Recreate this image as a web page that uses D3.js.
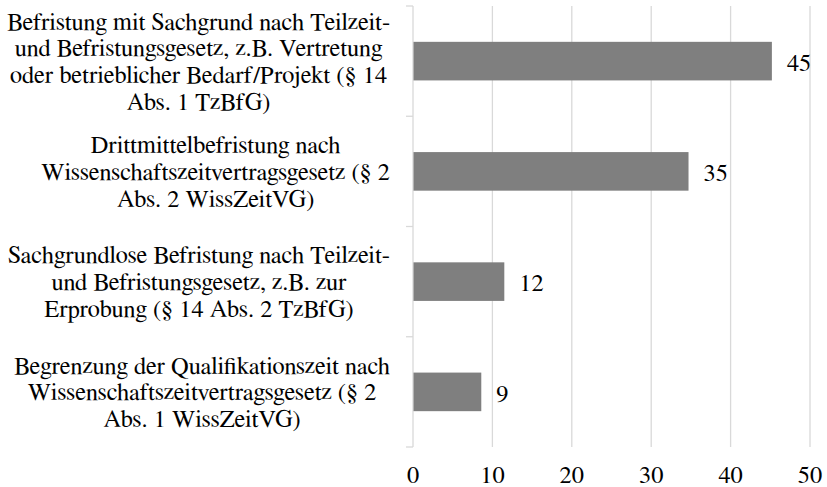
<!DOCTYPE html>
<html>
<head>
<meta charset="utf-8">
<script src="https://cdn.jsdelivr.net/npm/d3@7"></script>
<style>
  html, body { margin: 0; padding: 0; background: #ffffff; }
  svg { display: block; }
</style>
</head>
<body>
<svg id="chart" width="827" height="487"></svg>
<script>
// ---- data ----
const categories = [
  ["Befristung mit Sachgrund nach Teilzeit-", "und Befristungsgesetz, z.B. Vertretung", "oder betrieblicher Bedarf/Projekt (§ 14", "Abs. 1 TzBfG)"],
  ["Drittmittelbefristung nach", "Wissenschaftszeitvertragsgesetz (§ 2", "Abs. 2 WissZeitVG)"],
  ["Sachgrundlose Befristung nach Teilzeit-", "und Befristungsgesetz, z.B. zur", "Erprobung (§ 14 Abs. 2 TzBfG)"],
  ["Begrenzung der Qualifikationszeit nach", "Wissenschaftszeitvertragsgesetz (§ 2", "Abs. 1 WissZeitVG)"]
];
const values = [45.2, 34.7, 11.5, 8.6];
const xTicks = [0, 10, 20, 30, 40, 50];

// ---- layout ----
const FONT = 'FreeSerif, "Liberation Serif", serif';
const fontSize = 24.4;
const lineH = 26.7;
const svg = d3.select("#chart");
const keys = categories.map((c, i) => "c" + i);

const x = d3.scaleLinear().domain([0, 50]).range([413, 810]);
const y = d3.scaleBand().domain(keys).range([6, 447]).paddingInner(0.65).paddingOuter(0.325);

// gridlines
svg.append("g").selectAll("line").data(xTicks.filter(d => d > 0)).join("line")
  .attr("x1", d => x(d)).attr("x2", d => x(d))
  .attr("y1", y.range()[0]).attr("y2", y.range()[1])
  .attr("stroke", "#d9d9d9").attr("stroke-width", 1.3);

// left axis line + ticks at band boundaries
svg.append("line")
  .attr("x1", x(0)).attr("x2", x(0))
  .attr("y1", y.range()[0]).attr("y2", y.range()[1])
  .attr("stroke", "#d9d9d9").attr("stroke-width", 1.3);
const bounds = d3.range(categories.length + 1).map(i => y.range()[0] + i * y.step());
svg.append("g").selectAll("line").data(bounds).join("line")
  .attr("x1", x(0) - 7).attr("x2", x(0))
  .attr("y1", d => d).attr("y2", d => d)
  .attr("stroke", "#d9d9d9").attr("stroke-width", 1.3);

// bars
svg.append("g").selectAll("rect").data(values).join("rect")
  .attr("x", x(0) + 0.5)
  .attr("y", (d, i) => y(keys[i]))
  .attr("width", d => x(d) - x(0) - 0.5)
  .attr("height", y.bandwidth())
  .attr("fill", "#7f7f7f");

// value labels
svg.append("g").selectAll("text").data(values).join("text")
  .attr("x", d => x(d) + 15)
  .attr("y", (d, i) => y(keys[i]) + y.bandwidth() / 2)
  .attr("dy", "0.4em")
  .style("font-family", FONT)
  .style("font-size", fontSize + "px")
  .attr("fill", "#000")
  .text(d => Math.round(d));

// x tick labels
svg.append("g").selectAll("text").data(xTicks).join("text")
  .attr("x", d => x(d))
  .attr("y", 483)
  .attr("text-anchor", "middle")
  .style("font-family", FONT)
  .style("font-size", fontSize + "px")
  .attr("fill", "#000")
  .text(d => d);

// category labels (wrapped, centered lines, block right-aligned near axis)
const rightEdge = 390;
categories.forEach((lines, i) => {
  const cy = y(keys[i]) + y.bandwidth() / 2;
  const g = svg.append("g");
  const texts = g.selectAll("text").data(lines).join("text")
    .style("font-family", FONT)
    .style("font-size", fontSize + "px")
    .attr("fill", "#000")
    .attr("text-anchor", "middle")
    .attr("y", (d, j) => cy + (j - (lines.length - 1) / 2) * lineH)
    .attr("dy", "0.35em")
    .text(d => d);
  let maxW = 0;
  texts.each(function() { maxW = Math.max(maxW, this.getComputedTextLength()); });
  texts.attr("x", rightEdge - maxW / 2);
});
</script>
</body>
</html>
